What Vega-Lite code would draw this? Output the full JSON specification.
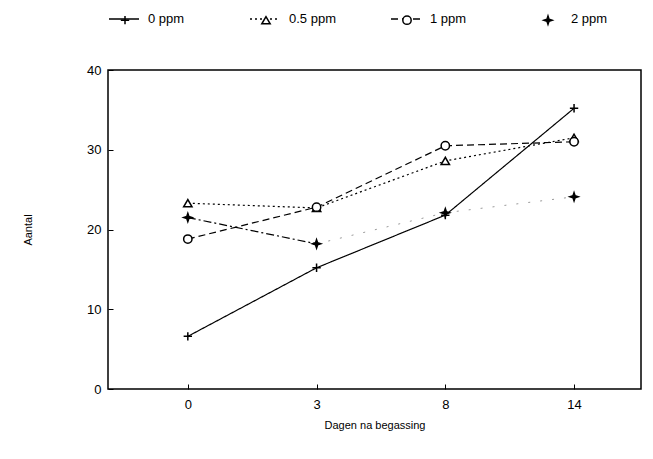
{
  "$schema": "https://vega.github.io/schema/vega-lite/v6.json",
  "autosize": "none",
  "width": 533,
  "height": 319,
  "padding": {"left": 108, "top": 70, "right": 12, "bottom": 70},
  "background": "white",
  "config": {
    "font": "Liberation Sans",
    "view": {"stroke": "black", "strokeWidth": 1.5},
    "axis": {"grid": false, "domain": false, "labelColor": "black", "titleColor": "black", "tickColor": "black", "labelFontSize": 13, "titleFontSize": 11, "titleFontWeight": "normal"},
    "legend": {"orient": "none", "direction": "horizontal", "labelFontSize": 13, "labelColor": "black", "gridAlign": "all"}
  },
  "data": {
    "values": [
      {"serie": "0 ppm", "idx": 0, "aantal": 6.6},
      {"serie": "0 ppm", "idx": 1, "aantal": 15.2},
      {"serie": "0 ppm", "idx": 2, "aantal": 21.8},
      {"serie": "0 ppm", "idx": 3, "aantal": 35.2},
      {"serie": "0.5 ppm", "idx": 0, "aantal": 23.3},
      {"serie": "0.5 ppm", "idx": 1, "aantal": 22.7},
      {"serie": "0.5 ppm", "idx": 2, "aantal": 28.6},
      {"serie": "0.5 ppm", "idx": 3, "aantal": 31.5},
      {"serie": "1 ppm", "idx": 0, "aantal": 18.8},
      {"serie": "1 ppm", "idx": 1, "aantal": 22.8},
      {"serie": "1 ppm", "idx": 2, "aantal": 30.5},
      {"serie": "1 ppm", "idx": 3, "aantal": 31.0},
      {"serie": "2 ppm", "idx": 0, "aantal": 21.5},
      {"serie": "2 ppm", "idx": 1, "aantal": 18.2},
      {"serie": "2 ppm", "idx": 2, "aantal": 22.1},
      {"serie": "2 ppm", "idx": 3, "aantal": 24.1}
    ]
  },
  "encoding": {
    "x": {
      "field": "idx", "type": "quantitative",
      "scale": {"domain": [-0.62, 3.52], "nice": false, "zero": false},
      "axis": {"values": [0, 1, 2, 3], "labelExpr": "['0','3','8','14'][datum.value]", "tickSize": -5, "labelPadding": 14, "title": "Dagen na begassing", "titlePadding": 8}
    },
    "y": {
      "field": "aantal", "type": "quantitative",
      "scale": {"domain": [0, 40], "nice": false},
      "axis": {"values": [0, 10, 20, 30, 40], "tickSize": -5, "labelPadding": 12, "title": "Aantal", "titlePadding": 53}
    }
  },
  "layer": [
    {
      "transform": [{"filter": "datum.serie !== '2 ppm' || datum.idx <= 1"}],
      "mark": {"type": "line", "color": "black", "strokeWidth": 1.2},
      "encoding": {
        "strokeDash": {
          "field": "serie", "type": "nominal", "title": null,
          "scale": {"domain": ["0 ppm", "0.5 ppm", "1 ppm", "2 ppm"], "range": [[1, 0], [2, 3], [7, 4], [8, 3, 2, 3]]},
          "legend": {"orient": "none", "legendX": 0, "legendY": -67, "symbolType": "stroke", "symbolSize": 900, "symbolStrokeWidth": 1.3, "symbolStrokeColor": "black", "labelOffset": 8, "columnPadding": 52,
            "encode": {"symbols": {"update": {"strokeOpacity": {"signal": "datum.value === '2 ppm' ? 0 : 1"}}}}}
        }
      }
    },
    {
      "transform": [{"filter": "datum.serie === '2 ppm' && datum.idx >= 1"}],
      "mark": {"type": "line", "color": "#9a9a9a", "strokeWidth": 1, "strokeDash": [2, 10]},
      "encoding": {"detail": {"field": "serie", "type": "nominal"}}
    },
    {
      "mark": {"type": "point", "color": "black", "opacity": 1, "strokeWidth": 1.5, "size": 70},
      "encoding": {
        "shape": {
          "field": "serie", "type": "nominal", "title": null,
          "scale": {"range": ["M-1,0L1,0M0,-1L0,1", "triangle-up", "circle", "M0,-1L0.25,-0.25L1,0L0.25,0.25L0,1L-0.25,0.25L-1,0L-0.25,-0.25Z"]},
          "legend": {"orient": "none", "legendX": 10.5, "legendY": -56.5, "labelExpr": "''", "labelOffset": 0, "columnPadding": 126, "symbolSize": 70,
            "encode": {"symbols": {"update": {"stroke": {"value": "black"}, "strokeWidth": {"value": 1.3}}}}}
        },
        "fill": {
          "field": "serie", "type": "nominal", "title": null,
          "scale": {"range": ["white", "white", "white", "black"]},
          "legend": {"orient": "none", "legendX": 10.5, "legendY": -56.5, "labelExpr": "''", "labelOffset": 0, "columnPadding": 126, "symbolSize": 70,
            "encode": {"symbols": {"update": {"stroke": {"value": "black"}, "strokeWidth": {"value": 1.3}}}}}
        }
      }
    }
  ]
}
